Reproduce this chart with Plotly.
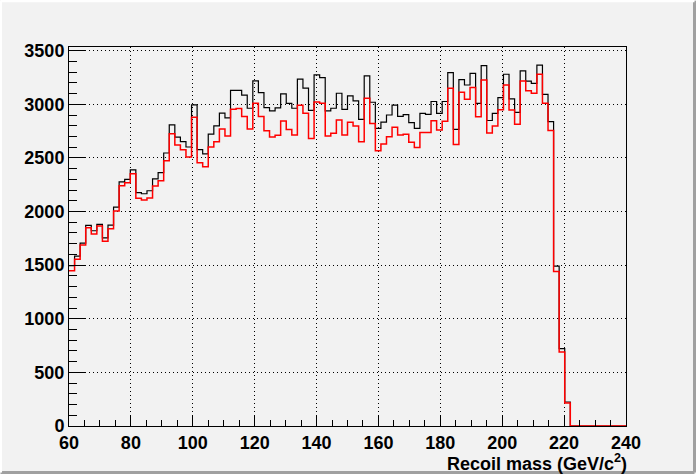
import plotly.graph_objects as go

# Histogram binning (100 bins from 60 to 240 GeV)
bin_lo = 60.0
bin_hi = 240.0
n_bins = 100

# Bin contents, black histogram
black_counts = [
    1496, 1584, 1706, 1870, 1821, 1880, 1755, 1874, 2042, 2276,
    2300, 2388, 2176, 2166, 2194, 2304, 2363, 2546, 2809, 2694,
    2651, 2602, 2994, 2577, 2537, 2722, 2799, 2917, 2873, 3130,
    3130, 3086, 2963, 3219, 3108, 2969, 2938, 2966, 3097, 3009,
    2963, 3234, 3150, 2944, 3274, 3249, 2938, 2963, 3103, 2953,
    3078, 3031, 2860, 3265, 3019, 2776, 2833, 2900, 2993, 2888,
    2904, 2830, 2776, 2915, 2906, 3026, 2915, 3026, 3295, 2766,
    3230, 3180, 3289, 3008, 3360, 2849, 2916, 3063, 3280, 3050,
    2925, 3311, 3217, 3196, 3366, 3093, 2839, 1490, 721, 224,
    0, 0, 0, 0, 0, 0, 0, 0, 0, 0,
]

# Bin contents, red histogram
red_counts = [
    1447, 1556, 1687, 1849, 1790, 1864, 1724, 1839, 2005, 2241,
    2269, 2353, 2123, 2107, 2126, 2238, 2288, 2473, 2725, 2620,
    2577, 2509, 2880, 2454, 2417, 2602, 2651, 2769, 2704, 2954,
    2960, 2886, 2769, 3009, 2886, 2753, 2694, 2712, 2844, 2766,
    2713, 2991, 2916, 2682, 3022, 3009, 2704, 2729, 2854, 2713,
    2832, 2798, 2651, 3056, 2822, 2567, 2629, 2698, 2785, 2713,
    2720, 2645, 2598, 2738, 2738, 2847, 2760, 2841, 3150, 2626,
    3112, 3047, 3156, 2885, 3226, 2732, 2798, 2950, 3180, 2947,
    2814, 3217, 3127, 3102, 3280, 3009, 2755, 1440, 690, 215,
    0, 0, 0, 0, 0, 0, 0, 0, 0, 0,
]

x_tick_vals = [60, 80, 100, 120, 140, 160, 180, 200, 220, 240]
y_tick_vals = [0, 500, 1000, 1500, 2000, 2500, 3000, 3500]
x_title = "Recoil mass (GeV/c<sup>2</sup>)"

width = (bin_hi - bin_lo) / n_bins
edges = [bin_lo + i * width for i in range(n_bins + 1)]
ymax = max(max(black_counts), max(red_counts)) * 1.05

bg = "#f2f2f2"
font = dict(family="Liberation Sans, Arial, sans-serif", size=18, color="black", weight="bold")

fig = go.Figure()
fig.add_trace(go.Scatter(
    x=edges, y=black_counts + [black_counts[-1]], mode="lines",
    line=dict(color="black", width=1.2, shape="hv"), hoverinfo="skip", showlegend=False))
fig.add_trace(go.Scatter(
    x=edges, y=red_counts + [red_counts[-1]], mode="lines",
    line=dict(color="#ff0000", width=1.5, shape="hv"), hoverinfo="skip", showlegend=False))

fig.update_xaxes(
    range=[bin_lo, bin_hi], tickvals=x_tick_vals, ticktext=[str(v) for v in x_tick_vals],
    ticks="inside", ticklen=11, tickwidth=1, tickcolor="black",
    minor=dict(dtick=5, ticks="inside", ticklen=6, tickcolor="black", showgrid=False),
    showgrid=True, gridcolor="black", griddash="1px,3px", gridwidth=1,
    showline=True, linecolor="black", linewidth=1, mirror=True,
    zeroline=False, tickfont=font, automargin=False, ticklabelstandoff=0)
fig.update_yaxes(
    range=[0, ymax], tickvals=y_tick_vals, ticktext=[str(v) for v in y_tick_vals],
    ticks="inside", ticklen=16, tickwidth=1, tickcolor="black",
    minor=dict(dtick=100, ticks="inside", ticklen=8, tickcolor="black", showgrid=False),
    showgrid=True, gridcolor="black", griddash="1px,3px", gridwidth=1,
    showline=True, linecolor="black", linewidth=1, mirror=True,
    zeroline=False, tickfont=font, automargin=False, ticklabelstandoff=0)

fig.add_annotation(
    text=x_title, xref="paper", yref="paper", x=1.006, y=-0.06,
    xanchor="right", yanchor="top", showarrow=False, font=font)

# canvas bevel border (right and bottom darker)
fig.add_shape(type="line", xref="paper", yref="paper", x0=-0.1229, x1=1.1230, y0=-0.1227, y1=-0.1227,
              line=dict(color="#a0a0a0", width=3))
fig.add_shape(type="line", xref="paper", yref="paper", x0=1.1230, x1=1.1230, y0=-0.1227, y1=1.1222,
              line=dict(color="#a0a0a0", width=3))
fig.add_shape(type="line", xref="paper", yref="paper", x0=-0.1229, x1=1.1230, y0=1.1222, y1=1.1222,
              line=dict(color="#ffffff", width=3))
fig.add_shape(type="line", xref="paper", yref="paper", x0=-0.1229, x1=-0.1229, y0=-0.1227, y1=1.1222,
              line=dict(color="#ffffff", width=3))

fig.update_layout(
    width=696, height=474,
    margin=dict(l=69, r=70, t=47, b=48),
    paper_bgcolor=bg, plot_bgcolor=bg,
    showlegend=False,
)
fig.write_html("out.html", config={"displayModeBar": False},
               post_script="document.body.style.margin='0';")
